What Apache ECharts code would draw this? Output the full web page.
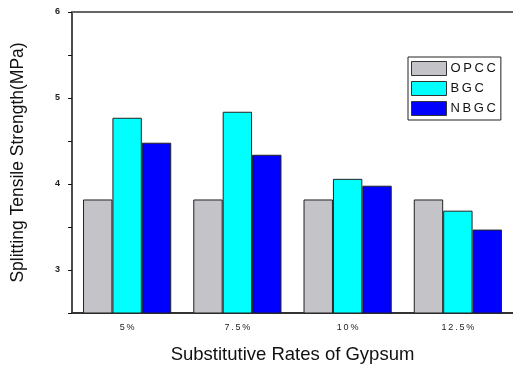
<!DOCTYPE html>
<html>
<head>
<meta charset="utf-8">
<script src="https://cdn.jsdelivr.net/npm/echarts@6/dist/echarts.min.js"></script>
<style>
  html, body { margin: 0; padding: 0; background: #fff; }
  #chart { width: 513px; height: 369px; }
</style>
</head>
<body>
<div id="chart"></div>
<script>
// Gypsum substitution rates (categories)
const categories = ['5%', '7.5%', '10%', '12.5%'];
// Splitting tensile strength (MPa) per mix
const opcc = [3.82, 3.82, 3.82, 3.82];
const bgc = [4.77, 4.84, 4.06, 3.69];
const nbgc = [4.48, 4.34, 3.98, 3.47];
const seriesNames = ['OPCC', 'BGC', 'NBGC'];
const seriesColors = ['#c4c3c7', '#00ffff', '#0000ff'];
const yTickLabels = { 3: '3', 4: '4', 5: '5', 6: '6' };

const chart = echarts.init(document.getElementById('chart'), null, { renderer: 'canvas' });

const spaced = s => s.split('').join('\u2009');

const barSeries = [opcc, bgc, nbgc].map((data, i) => ({
  name: seriesNames[i],
  type: 'bar',
  data: data,
  barGap: 0,
  barCategoryGap: '20%',
  itemStyle: { color: seriesColors[i], borderColor: '#222', borderWidth: 1 },
  emphasis: { disabled: true }
}));

chart.setOption({
  animation: false,
  textStyle: { fontFamily: 'Liberation Sans, Arial, sans-serif' },
  grid: { left: 72, top: 12, right: -2, bottom: 51, containLabel: false },
  legend: {
    data: seriesNames,
    orient: 'vertical',
    left: 408,
    top: 57,
    itemWidth: 35,
    itemHeight: 14,
    itemGap: 5,
    padding: [4, 5, 4, 3],
    borderColor: '#222',
    borderWidth: 1,
    backgroundColor: '#fff',
    icon: 'rect',
    formatter: name => spaced(name),
    textStyle: { fontSize: 13, color: '#111', padding: [0, 0, 0, -1] },
    itemStyle: { borderColor: '#333', borderWidth: 1 }
  },
  xAxis: [{
    type: 'category',
    data: categories,
    position: 'bottom',
    name: 'Substitutive Rates of Gypsum',
    nameLocation: 'middle',
    nameGap: 32,
    nameTextStyle: { fontSize: 18.5, color: '#111' },
    axisLine: { lineStyle: { color: '#333', width: 2 } },
    axisTick: { alignWithLabel: true, length: 5, lineStyle: { color: '#333' } },
    axisLabel: { fontSize: 9, color: '#222', margin: 10, formatter: v => spaced(v) },
    splitLine: { show: false }
  }, {
    type: 'category',
    data: categories,
    position: 'top',
    axisLine: { lineStyle: { color: '#666', width: 2 } },
    axisTick: { show: false },
    axisLabel: { show: false }
  }],
  yAxis: {
    type: 'value',
    min: 2.5,
    max: 6,
    interval: 0.5,
    name: 'Splitting Tensile Strength(MPa)',
    nameLocation: 'middle',
    nameGap: 45,
    nameRotate: 90,
    nameTextStyle: { fontSize: 17.5, color: '#111' },
    axisLine: { show: true, lineStyle: { color: '#111', width: 1.5 } },
    axisTick: { show: true, inside: false, length: 4, lineStyle: { color: '#111' } },
    axisLabel: {
      fontSize: 9, color: '#222', margin: 12, fontWeight: 'bold',
      formatter: v => yTickLabels[v] || ''
    },
    splitLine: { show: false }
  },
  series: barSeries
});
</script>
</body>
</html>
